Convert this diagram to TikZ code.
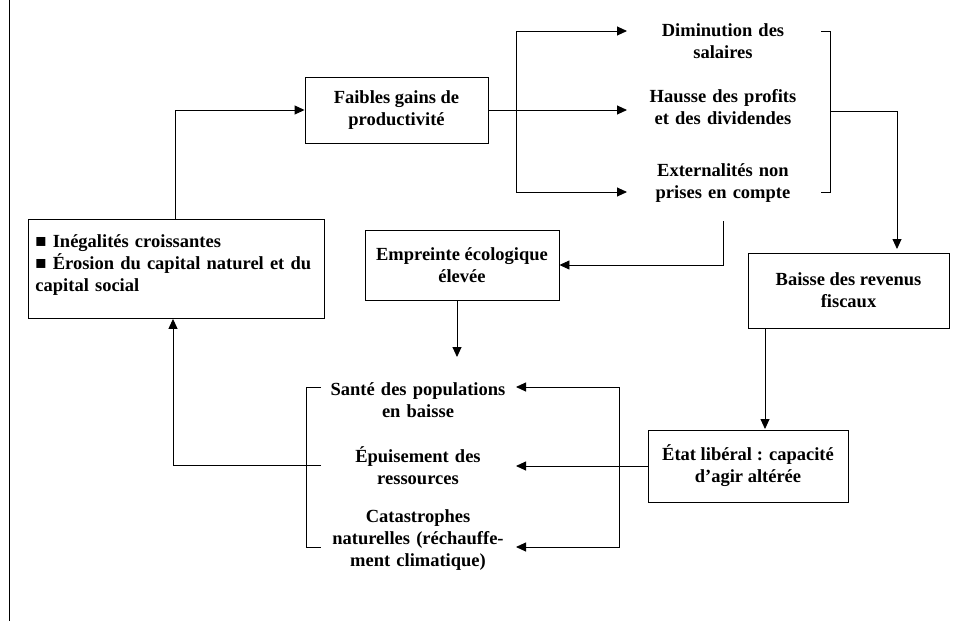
\documentclass[tikz,border=0pt]{standalone}
\usepackage{fontspec}
\setmainfont{Liberation Serif}
\usetikzlibrary{arrows.meta}
\begin{document}
\begin{tikzpicture}[x=1pt,y=-1pt,line width=0.9pt,
  txt/.style={font=\bfseries\fontsize{18.5}{22}\selectfont,align=center,inner sep=3pt},
  box/.style={txt,draw,rectangle,line width=0.9pt},
  lbl/.style={txt,text width=190pt},
  arr/.style={-{Triangle[length=10pt,width=9pt]}}]
\useasboundingbox (0,0) rectangle (953,621);
% page rule on the left
\draw (9,0) -- (9,621);
% boxes
\node[box,minimum width=183pt,minimum height=66pt] (fg) at (396.5,110) {Faibles gains de\\productivité};
\node[box,align=left,text width=282pt,minimum height=99pt,inner xsep=7pt,inner ysep=0pt,anchor=north west] (ineg) at (28,219)
  {■ Inégalités croissantes\\■ Érosion du capital naturel et du\\capital social\\[-11pt]\mbox{}};
\node[box,minimum width=194pt,minimum height=70pt] (emp) at (462,265) {Empreinte écologique\\élevée};
\node[box,minimum width=201pt,minimum height=75pt] (baisse) at (848.5,290.5) {Baisse des revenus\\fiscaux};
\node[box,minimum width=200pt,minimum height=72pt] (etat) at (748,466) {État libéral : capacité\\d’agir altérée};
% text items
\node[lbl] (dim) at (723,41.5) {Diminution des\\salaires};
\node[lbl] (hau) at (723,107.5) {Hausse des profits\\et des dividendes};
\node[lbl] (ext) at (723,183.5) {Externalités non\\prises en compte};
\node[lbl] (sante) at (418,400) {Santé des populations\\en baisse};
\node[lbl] (epu) at (418,466) {Épuisement des\\ressources};
\node[lbl] (cat) at (418,540.5) {Catastrophes\\naturelles (réchauffe-\\ment climatique)};
% coordinates
\coordinate (split) at (516,110);
\coordinate (rb) at (830,111);
\coordinate (bin) at (897,249);
\coordinate (extd) at (723,221);
\coordinate (lb) at (321,465);
% connectors
\draw[arr] (ineg.north -| 175,0) |- (fg.west);
\draw[arr] (fg.east) -- (627,110);
\draw[arr] (split) |- (627,31);
\draw[arr] (split) |- (627,192);
\draw (821,31) -- (830,31) -- (830,192) -- (821,192);
\draw[arr] (rb) -| (bin);
\draw[arr] (extd) |- (emp.east);
\draw[arr] (emp.south -| 457,0) -- (457,357);
\draw[arr] (baisse.south -| 765,0) -- (765,429);
\draw[arr] (etat.west) -- (516,466);
\draw[arr] (619,387) -- (516,387);
\draw[arr] (619,387) -- (619,547) -- (516,547);
\draw (321,387) -- (306,387) -- (306,547) -- (321,547);
\draw[arr] (lb) -- (173,465) -- (ineg.south -| 173,0);
\end{tikzpicture}
\end{document}
